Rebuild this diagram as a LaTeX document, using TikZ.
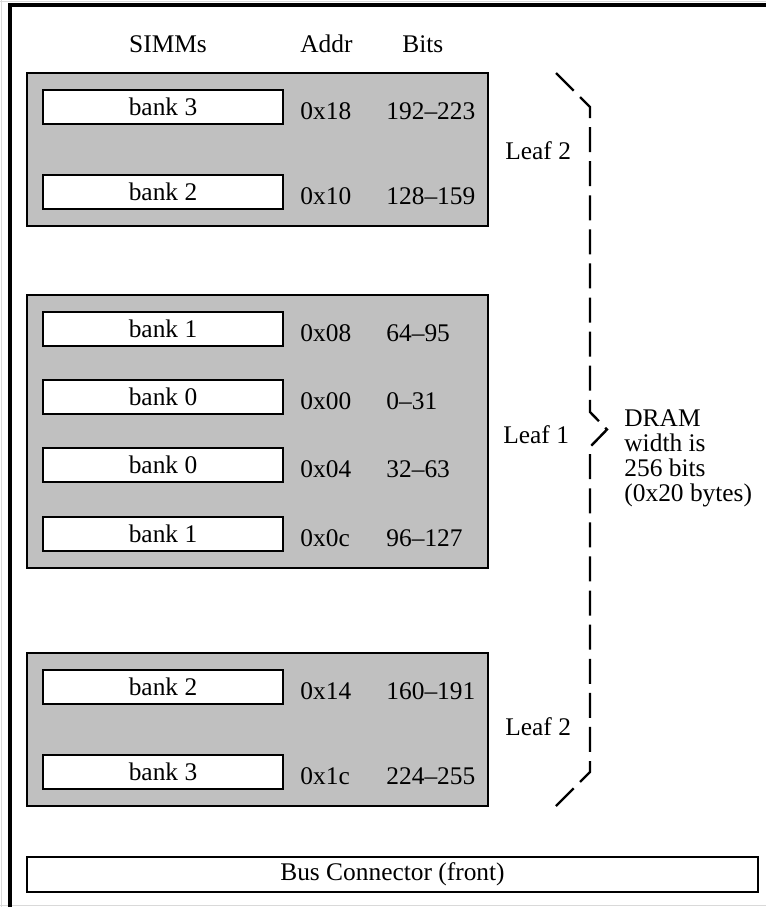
\documentclass[tikz,border=0pt]{standalone}
\usepackage{fontspec}
\setmainfont{Liberation Serif}
\definecolor{leafgray}{RGB}{192,192,192}
\begin{document}
\begin{tikzpicture}[x=0.5pt,y=-0.5pt,
  font=\fontsize{12.7}{15}\selectfont,
  leafbox/.style={draw, line width=1pt, fill=leafgray, minimum width=230.5pt, inner sep=0pt},
  simm/.style={draw, line width=1pt, fill=white, minimum width=120pt, minimum height=17pt, inner sep=0pt},
  lbl/.style={anchor=base west, inner sep=0pt},
  hdr/.style={anchor=base, inner sep=0pt},
  brace/.style={line width=1.2pt, dash pattern=on 12.5pt off 4.545pt, line join=miter},
  frame/.style={line width=2pt},
  edge/.style={gray!30, line width=0.5pt}]
\useasboundingbox (0,0) rectangle (766,907);

% faint paper edges and the thick board outline
\draw[edge] (0,1) -- (766,1);
\draw[edge] (1,0) -- (1,907);
\draw[edge] (0,905.5) -- (766,905.5);
\draw[frame] (10,907) -- (10,4.5) -- (766,4.5);

% column headings
\node[hdr] (hsimm) at (168,52) {SIMMs};
\node[lbl] (haddr) at (300,52) {Addr};
\node[lbl] (hbits) at (402,52) {Bits};

% leaf groups
\node[leafbox, minimum height=76.5pt]  (leafA) at (257.5,149.5) {};
\node[leafbox, minimum height=136.5pt] (leafB) at (257.5,431.5) {};
\node[leafbox, minimum height=76.5pt]  (leafC) at (257.5,729.5) {};

% SIMM slots with address and bit range
\foreach \i/\y/\b/\a/\r in {
    1/107/3/0x18/192--223,
    2/192/2/0x10/128--159,
    3/329/1/0x08/64--95,
    4/397/0/0x00/0--31,
    5/465/0/0x04/32--63,
    6/534/1/0x0c/96--127,
    7/687/2/0x14/160--191,
    8/772/3/0x1c/224--255} {
  \node[simm] (s\i) at (163,\y) {bank \b};
  \node[lbl] (a\i) at (300,\y+12) {\a};
  \node[lbl] (r\i) at (386,\y+12) {\r};
}

% dashed brace spanning the DRAM width
\coordinate (btop) at (556,73);
\coordinate (bend) at (556,806);
\coordinate (btip) at (607,429.5);
\draw[brace] (btop) -- (590,107) -- (590,412) -- (btip) -- (590,447) -- (590,772) -- (bend);

% leaf labels
\node[lbl] (leaf2a) at (505,159) {Leaf 2};
\node[lbl] (leaf1)  at (503,443) {Leaf 1};
\node[lbl] (leaf2b) at (505,735) {Leaf 2};

% width note
\node[lbl] (d1) at (624,426) {DRAM};
\node[lbl] (d2) at (624,451) {width is};
\node[lbl] (d3) at (624,476) {256 bits};
\node[lbl] (d4) at (624,501) {(0x20 bytes)};

% bus connector
\node[draw, line width=1pt, minimum width=365.5pt, minimum height=17.5pt, inner sep=0pt]
  (bus) at (392.5,874.5) {Bus Connector (front)};
\end{tikzpicture}
\end{document}
